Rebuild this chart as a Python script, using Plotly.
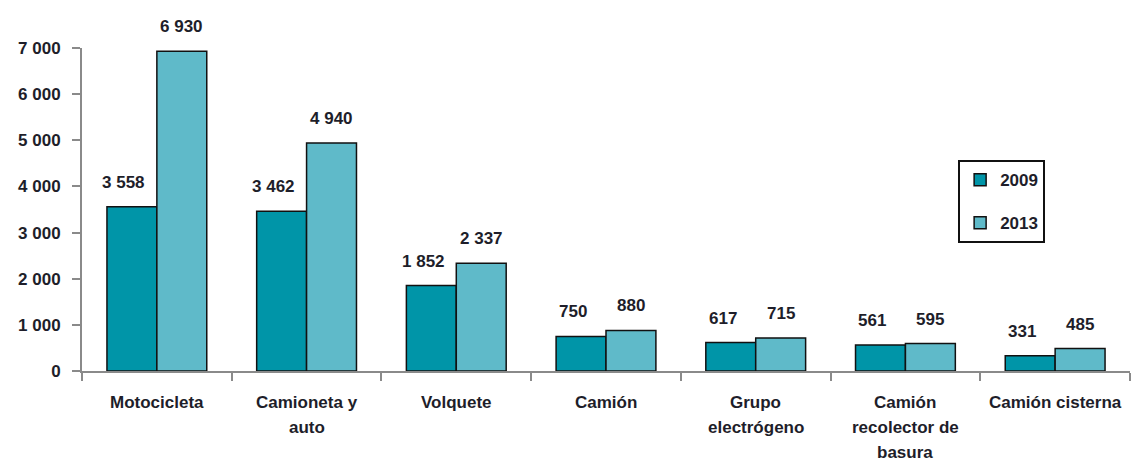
import plotly.graph_objects as go

categories = ["Motocicleta", "Camioneta y\nauto", "Volquete", "Camión",
              "Grupo\nelectrógeno", "Camión\nrecolector de\nbasura", "Camión cisterna"]
values_2009 = [3558, 3462, 1852, 750, 617, 561, 331]
values_2013 = [6930, 4940, 2337, 880, 715, 595, 485]
y_ticks = [0, 1000, 2000, 3000, 4000, 5000, 6000, 7000]

FONT = "Liberation Sans, Arial, sans-serif"
TXT = "#1e1e2a"
C09 = "#0095a8"
C13 = "#5fbac9"
FS = 17

keys = [c.replace("\n", " ") for c in categories]


def fmt(v):
    return f"{v:,}".replace(",", " ")


def b(s):
    return f"<b>{s}</b>"


fig = go.Figure()
fig.add_trace(go.Bar(x=keys, y=values_2009, name=b("2009"), marker_color=C09,
                     marker_line=dict(color="#111", width=1.5), legendgroup="a"))
fig.add_trace(go.Bar(x=keys, y=values_2013, name=b("2013"), marker_color=C13,
                     marker_line=dict(color="#111", width=1.5), legendgroup="b"))

ann = []
# value labels above each bar
for i, k in enumerate(keys):
    ann.append(dict(x=k, y=values_2009[i], text=b(fmt(values_2009[i])), showarrow=False,
                    xshift=-33, yshift=13, yanchor="bottom",
                    font=dict(family=FONT, size=FS, color=TXT)))
    ann.append(dict(x=k, y=values_2013[i], text=b(fmt(values_2013[i])), showarrow=False,
                    xshift=25, yshift=13, yanchor="bottom",
                    font=dict(family=FONT, size=FS, color=TXT)))
# category labels with wide line spacing
for k, c in zip(keys, categories):
    for j, line in enumerate(c.split("\n")):
        ann.append(dict(x=k, y=0, yref="y", text=b(line), showarrow=False,
                        yanchor="middle", yshift=-31 - 25 * j,
                        font=dict(family=FONT, size=FS, color=TXT)))

fig.update_layout(
    width=1131, height=462,
    margin=dict(l=82, r=1, t=48, b=91),
    paper_bgcolor="white", plot_bgcolor="white",
    barmode="group", bargap=1/3, bargroupgap=0,
    showlegend=True,
    legend=dict(x=0.836, y=0.653, xanchor="left", yanchor="top",
                bordercolor="#111", borderwidth=2, bgcolor="white",
                font=dict(family=FONT, size=FS, color=TXT),
                tracegroupgap=18, traceorder="grouped", itemwidth=30),
    annotations=ann,
    xaxis=dict(showticklabels=False, showline=True, linecolor="#8a8a8a", linewidth=2,
               ticks="outside", tickson="boundaries", ticklen=8, tickcolor="#8a8a8a",
               tickwidth=2, showgrid=False, zeroline=False),
    yaxis=dict(range=[0, 7000], tickvals=y_ticks, ticktext=[b(fmt(v)) for v in y_ticks],
               showline=True, linecolor="#8a8a8a", linewidth=2, ticks="outside",
               ticklen=8, tickcolor="#8a8a8a", tickwidth=2, showgrid=False,
               zeroline=False, ticklabelstandoff=8,
               tickfont=dict(family=FONT, size=FS, color=TXT)),
)

fig.write_html("out.html")
